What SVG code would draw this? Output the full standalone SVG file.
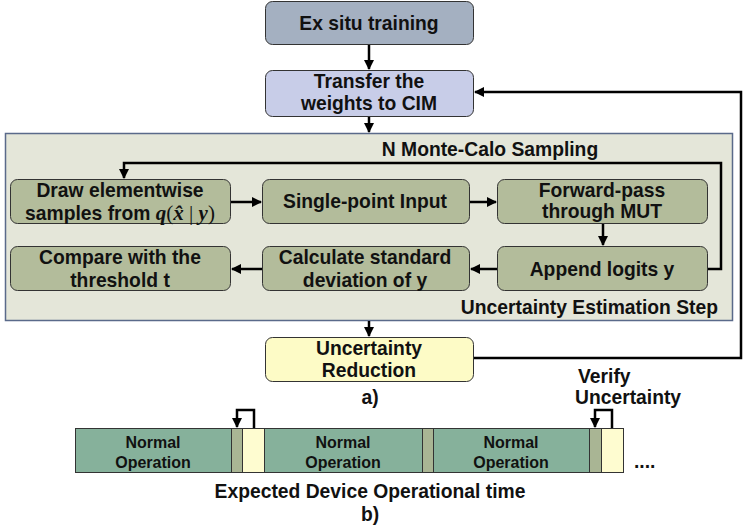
<svg xmlns="http://www.w3.org/2000/svg" width="747" height="528" viewBox="0 0 747 528">
<defs>
<marker id="ah" viewBox="0 0 10 10" refX="9" refY="5" markerWidth="4" markerHeight="4" orient="auto" markerUnits="strokeWidth">
<path d="M0,0 L10,5 L0,10 z" fill="#000"/>
</marker>
<style>
.t{font-family:"Liberation Sans",Arial,sans-serif;font-weight:bold;font-size:19.3px;fill:#111;text-anchor:middle}
.s{font-size:16px}
.m{font-family:"Liberation Serif","Times New Roman",serif;font-style:italic;font-weight:bold;font-size:21px}
.r{font-family:"Liberation Serif","Times New Roman",serif;font-weight:normal;font-size:21px}
.box{stroke:#333;stroke-width:1}
.g{fill:#b3bc9b}
.ca{fill:none;stroke:#000;stroke-width:2.5;marker-end:url(#ah)}
.bar{stroke:#333;stroke-width:1}
</style>
</defs>
<rect width="747" height="528" fill="#fff"/>
<g id="panel">
<rect x="5.5" y="133.5" width="727" height="187" fill="#e4e6d9" stroke="#5a6a8a" stroke-width="1.5"/>
<text class="t" x="490" y="156">N Monte-Calo Sampling</text>
<text class="t" x="718" y="314" style="text-anchor:end">Uncertainty Estimation Step</text>
</g>
<g id="exsitu">
<rect class="box" x="265.5" y="1.5" width="208" height="43" rx="7" fill="#a4b0c1"/>
<text class="t" x="369" y="30">Ex situ training</text>
</g>
<g id="transfer">
<rect class="box" x="265.5" y="70.5" width="208" height="46" rx="7" fill="#c8cde8"/>
<text class="t" x="369" y="88">Transfer the</text>
<text class="t" x="369" y="110">weights to CIM</text>
</g>
<g id="draw">
<rect class="box g" x="10.5" y="179.5" width="220" height="44" rx="7"/>
<text class="t" x="120" y="197">Draw elementwise</text>
<text class="t" x="120" y="220">samples from <tspan class="m">q</tspan><tspan class="r">(</tspan><tspan class="m">x̂</tspan><tspan class="r"> | </tspan><tspan class="m">y</tspan><tspan class="r">)</tspan></text>
</g>
<g id="single">
<rect class="box g" x="262.5" y="179.5" width="207" height="44" rx="7"/>
<text class="t" x="365" y="208">Single-point Input</text>
</g>
<g id="forward">
<rect class="box g" x="497.5" y="179.5" width="210" height="44" rx="7"/>
<text class="t" x="602" y="197">Forward-pass</text>
<text class="t" x="602" y="218">through MUT</text>
</g>
<g id="compare">
<rect class="box g" x="10.5" y="246.5" width="220" height="44" rx="7"/>
<text class="t" x="120" y="264">Compare with the</text>
<text class="t" x="120" y="287">threshold t</text>
</g>
<g id="calculate">
<rect class="box g" x="262.5" y="246.5" width="207" height="44" rx="7"/>
<text class="t" x="365" y="264">Calculate standard</text>
<text class="t" x="365" y="287">deviation of y</text>
</g>
<g id="append">
<rect class="box g" x="497.5" y="246.5" width="210" height="44" rx="7"/>
<text class="t" x="602" y="276">Append logits y</text>
</g>
<g id="reduction">
<rect class="box" x="265.5" y="337.5" width="208" height="44" rx="7" fill="#fdfbc6"/>
<text class="t" x="369" y="355">Uncertainty</text>
<text class="t" x="369" y="377">Reduction</text>
</g>
<g id="labels">
<text class="t" x="370" y="404">a)</text>
<text class="t" x="578" y="383" style="text-anchor:start">Verify</text>
<text class="t" x="575" y="404" style="text-anchor:start">Uncertainty</text>
<text class="t" x="370" y="498">Expected Device Operational time</text>
<text class="t" x="370" y="521">b)</text>
<text class="t" x="634" y="468" style="text-anchor:start">....</text>
</g>
<g id="timeline">
<rect class="bar" x="75.5" y="428.5" width="156" height="44" fill="#86b19b"/>
<rect class="bar" x="231.5" y="428.5" width="11" height="44" fill="#a9b594"/>
<rect class="bar" x="242.5" y="428.5" width="22" height="44" fill="#fefcd0"/>
<rect class="bar" x="264.5" y="428.5" width="158" height="44" fill="#86b19b"/>
<rect class="bar" x="422.5" y="428.5" width="11" height="44" fill="#a9b594"/>
<rect class="bar" x="433.5" y="428.5" width="156" height="44" fill="#86b19b"/>
<rect class="bar" x="589.5" y="428.5" width="12" height="44" fill="#a9b594"/>
<rect class="bar" x="601.5" y="428.5" width="22" height="44" fill="#fefcd0"/>
<text class="t s" x="153" y="448">Normal</text>
<text class="t s" x="153" y="468">Operation</text>
<text class="t s" x="343" y="448">Normal</text>
<text class="t s" x="343" y="468">Operation</text>
<text class="t s" x="511" y="448">Normal</text>
<text class="t s" x="511" y="468">Operation</text>
</g>
<g id="connectors">
<path class="ca" d="M369,45 V69"/>
<path class="ca" d="M369,117 V132"/>
<path class="ca" d="M369,321 V336"/>
<path class="ca" d="M231,202 H261"/>
<path class="ca" d="M470,202 H496"/>
<path class="ca" d="M603,224 V245"/>
<path class="ca" d="M497,269 H471"/>
<path class="ca" d="M262,269 H232"/>
<path class="ca" d="M708,269 H721 V163 H124 V178"/>
<path class="ca" d="M474,358 H741 V92 H475"/>
<path class="ca" d="M254,428 V410 H237 V427"/>
<path class="ca" d="M612,428 V410 H595 V427"/>
</g>
</svg>
